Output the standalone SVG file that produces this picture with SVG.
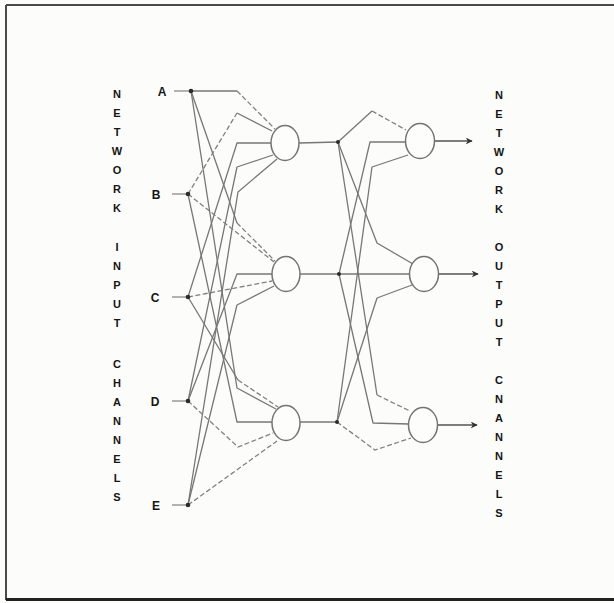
<svg xmlns="http://www.w3.org/2000/svg" width="614" height="603" viewBox="0 0 614 603">
<defs>
<style>
.bg{fill:#fcfcfa}
.frame{stroke:#4a4a4a;stroke-width:2;fill:none}
.frameb{stroke:#222;stroke-width:3;fill:none}
.ln{stroke:#777;stroke-width:1.3;fill:none;stroke-linejoin:round}
.ds{stroke:#808080;stroke-width:1.3;fill:none;stroke-dasharray:5 2.5}
.node{fill:#fdfdfb;stroke:#747474;stroke-width:1.5}
.dot{fill:#2b2b2b}
.lead{stroke:#8a8a8a;stroke-width:1.3}
.lbl{font-family:"Liberation Sans",Arial,sans-serif;font-weight:bold;font-size:12px;fill:#151515;text-anchor:middle}
.vt{font-family:"Liberation Sans",Arial,sans-serif;font-weight:bold;font-size:11px;fill:#151515;text-anchor:middle}
.arr{stroke:#555;stroke-width:1.5}
</style>
<marker id="ah" viewBox="0 0 10 10" refX="9" refY="5" markerWidth="7" markerHeight="7" orient="auto" markerUnits="userSpaceOnUse">
<path d="M0,0 L10,5 L0,10 L3,5 Z" fill="#333"/>
</marker>
</defs>
<rect class="bg" x="0" y="0" width="614" height="603"/>
<g id="frame">
<line class="frame" x1="6" y1="5" x2="614" y2="5"/>
<line class="frame" x1="6" y1="5" x2="6" y2="600"/>
<line class="frameb" x1="6" y1="599.5" x2="614" y2="599.5"/>
</g>

<g id="connectors">
<!-- to H1 -->
<path class="ln" d="M191,91 L237,91"/><path class="ds" d="M237,91 L275,129"/>
<path class="ds" d="M188,194 L237,113"/><path class="ln" d="M237,113 L272,131"/>
<path class="ln" d="M188,297 L237,143 L271,143"/>
<path class="ln" d="M188,401 L237,167 L273,155"/>
<path class="ln" d="M188,505 L238,192 L277,159"/>
<!-- to H2 -->
<path class="ln" d="M191,91 L237,223"/><path class="ds" d="M237,223 L275,261"/>
<path class="ds" d="M188,194 L274,262"/>
<path class="ds" d="M188,297 L272,281"/>
<path class="ln" d="M188,401 L237,274 L272,274"/>
<path class="ln" d="M188,505 L237,305 L274,286"/>
<!-- to H3 -->
<path class="ln" d="M191,91 L237,388 L276,409"/>
<path class="ln" d="M188,194 L237,422 L272,422"/>
<path class="ln" d="M188,297 L238,380"/><path class="ds" d="M238,380 L278,407"/>
<path class="ds" d="M188,401 L238,447 L273,433"/>
<path class="ds" d="M188,505 L277,441"/>
<!-- hidden to junctions -->
<path class="ln" d="M299,143 L338,142"/>
<path class="ln" d="M300,274 L339,274"/>
<path class="ln" d="M300,422 L337,422"/>
<!-- to O1 -->
<path class="ln" d="M338,142 L372,111"/><path class="ds" d="M372,111 L406,130"/>
<path class="ln" d="M339,274 L370,142 L405,142"/>
<path class="ln" d="M337,422 L372,167 L408,155"/>
<!-- to O2 -->
<path class="ln" d="M338,142 L377,243 L413,264"/>
<path class="ln" d="M339,274 L410,274"/>
<path class="ln" d="M337,422 L377,298 L412,285"/>
<!-- to O3 -->
<path class="ln" d="M338,142 L377,395"/><path class="ds" d="M377,395 L410,411"/>
<path class="ln" d="M339,274 L373,423 L409,424"/>
<path class="ds" d="M337,422 L375,450 L411,438"/>
<!-- outputs -->
<line class="arr" x1="434" y1="141" x2="472" y2="141" marker-end="url(#ah)"/>
<line class="arr" x1="438" y1="274" x2="478" y2="274" marker-end="url(#ah)"/>
<line class="arr" x1="437" y1="425" x2="477" y2="425" marker-end="url(#ah)"/>
</g>

<g id="in-A"><text class="lbl" x="162" y="95.5">A</text><line class="lead" x1="174" y1="91" x2="191" y2="91"/><circle class="dot" cx="191" cy="91" r="2.3"/></g>
<g id="in-B"><text class="lbl" x="156" y="198.5">B</text><line class="lead" x1="172" y1="194" x2="188" y2="194"/><circle class="dot" cx="188" cy="194" r="2.3"/></g>
<g id="in-C"><text class="lbl" x="155" y="301.5">C</text><line class="lead" x1="172" y1="297" x2="188" y2="297"/><circle class="dot" cx="188" cy="297" r="2.3"/></g>
<g id="in-D"><text class="lbl" x="155" y="405.5">D</text><line class="lead" x1="172" y1="401" x2="188" y2="401"/><circle class="dot" cx="188" cy="401" r="2.3"/></g>
<g id="in-E"><text class="lbl" x="156" y="509.5">E</text><line class="lead" x1="172" y1="505" x2="188" y2="505"/><circle class="dot" cx="188" cy="505" r="2.3"/></g>

<g id="h1"><ellipse class="node" cx="285" cy="143" rx="14" ry="17.5"/></g>
<g id="h2"><ellipse class="node" cx="286" cy="274" rx="14" ry="17.5"/></g>
<g id="h3"><ellipse class="node" cx="286" cy="423" rx="14" ry="17.5"/></g>

<g id="j1"><circle class="dot" cx="338" cy="142" r="2"/></g>
<g id="j2"><circle class="dot" cx="339" cy="274" r="2"/></g>
<g id="j3"><circle class="dot" cx="337" cy="422" r="2"/></g>

<g id="o1"><ellipse class="node" cx="420" cy="141" rx="14.5" ry="17.5"/></g>
<g id="o2"><ellipse class="node" cx="424" cy="274" rx="14.5" ry="17.5"/></g>
<g id="o3"><ellipse class="node" cx="423" cy="425" rx="14.5" ry="17.5"/></g>

<g id="label-input">
<text class="vt" x="117" y="98">N</text><text class="vt" x="117" y="117">E</text><text class="vt" x="117" y="136">T</text><text class="vt" x="117" y="155">W</text><text class="vt" x="117" y="174">O</text><text class="vt" x="117" y="193">R</text><text class="vt" x="117" y="212">K</text>
<text class="vt" x="117" y="251">I</text><text class="vt" x="117" y="270">N</text><text class="vt" x="117" y="289">P</text><text class="vt" x="117" y="308">U</text><text class="vt" x="117" y="327">T</text>
<text class="vt" x="117" y="368">C</text><text class="vt" x="117" y="387">H</text><text class="vt" x="117" y="406">A</text><text class="vt" x="117" y="425">N</text><text class="vt" x="117" y="444">N</text><text class="vt" x="117" y="463">E</text><text class="vt" x="117" y="482">L</text><text class="vt" x="117" y="501">S</text>
</g>
<g id="label-output">
<text class="vt" x="499" y="99">N</text><text class="vt" x="499" y="118">E</text><text class="vt" x="499" y="137">T</text><text class="vt" x="499" y="156">W</text><text class="vt" x="499" y="175">O</text><text class="vt" x="499" y="194">R</text><text class="vt" x="499" y="213">K</text>
<text class="vt" x="499" y="251">O</text><text class="vt" x="499" y="270">U</text><text class="vt" x="499" y="289">T</text><text class="vt" x="499" y="308">P</text><text class="vt" x="499" y="327">U</text><text class="vt" x="499" y="346">T</text>
<text class="vt" x="499" y="384">C</text><text class="vt" x="499" y="403">N</text><text class="vt" x="499" y="422">A</text><text class="vt" x="499" y="441">N</text><text class="vt" x="499" y="460">N</text><text class="vt" x="499" y="479">E</text><text class="vt" x="499" y="498">L</text><text class="vt" x="499" y="517">S</text>
</g>
</svg>
